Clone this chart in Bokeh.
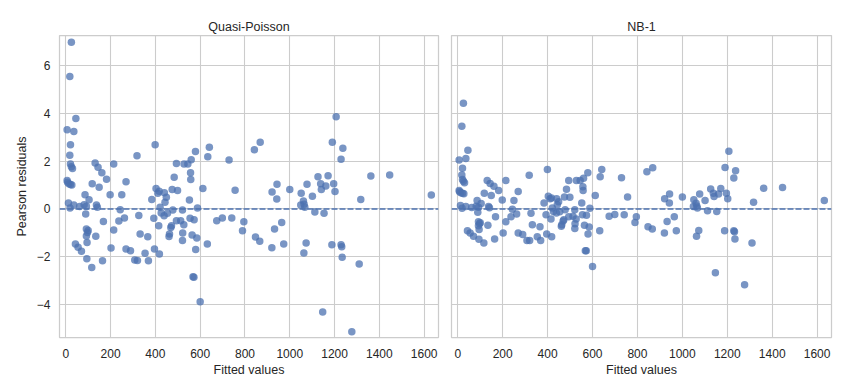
from bokeh.plotting import figure
from bokeh.layouts import row
from bokeh.models import Span, Range1d, FixedTicker, ColumnDataSource
from bokeh.embed import file_html
from bokeh.resources import INLINE

fitted = [25, 18, 45, 6, 36, 21, 18, 21, 25, 30, 6, 8, 14, 21, 27, 12, 19, 36, 62, 82,
          86, 92, 89, 104, 43, 55, 70, 94, 116, 92, 100, 97, 92, 95, 131, 144, 161, 182, 118, 149,
          137, 141, 134, 168, 164, 214, 198, 214, 202, 250, 243, 237, 262, 269, 269, 289, 308, 320, 318, 326,
          332, 366, 354, 369, 399, 384, 393, 396, 403, 411, 417, 415, 418, 421, 426, 440, 443, 449, 439, 454,
          461, 463, 469, 472, 478, 475, 484, 494, 499, 494, 513, 521, 522, 521, 528, 527, 545, 552, 557, 558,
          560, 555, 573, 564, 579, 568, 572, 588, 585, 580, 600, 612, 634, 641, 632, 674, 699, 729, 741, 756,
          795, 789, 842, 868, 847, 866, 920, 921, 932, 942, 943, 964, 973, 1000, 1051, 1049, 1061, 1064, 1067, 1063,
          1073, 1077, 1101, 1112, 1126, 1138, 1141, 1147, 1153, 1161, 1171, 1188, 1190, 1196, 1202, 1207, 1229, 1237, 1229, 1232,
          1234, 1277, 1310, 1317, 1362, 1446, 1632]

resid_quasi_poisson = [6.97, 5.54, 3.78, 3.31, 3.24, 2.68, 2.25, 1.88, 1.77, 1.69, 1.19, 1.12, 1.05, 1.02, 1.00, 0.25, 0.04, 0.17, 0.10, 0.18,
          0.60, 0.11, -0.21, 0.39, -1.46, -1.60, -1.77, -2.08, -2.44, -0.84, -0.90, -0.98, -1.13, -1.40, 1.92, 1.74, 1.51, 1.24, 1.06, 0.91,
          0.17, 0.07, -1.14, -0.52, -2.16, 1.88, 0.60, -0.88, -1.63, 0.60, -0.03, -0.50, -0.38, 1.14, -1.67, -1.74, -2.13, -2.15, 2.23, -0.27,
          -1.05, -1.16, -1.85, -2.16, 2.68, 0.40, -0.39, -1.67, 0.86, 0.66, 0.74, -0.70, -1.88, 0.07, -0.17, 0.68, 0.28, 0.49, -0.28, -0.18,
          -1.15, -1.05, -0.77, -0.70, -0.04, 0.81, 1.33, 1.90, 0.77, -0.49, -0.49, -0.04, -1.00, -1.32, 1.88, -0.66, 1.88, 0.38, 1.51, 1.23,
          2.06, -0.39, -0.45, -1.09, 2.40, -2.83, -2.85, 0.04, -1.21, -1.69, -3.88, 0.86, 2.18, 2.58, -1.46, -0.49, -0.38, 2.05, -0.38, 0.78,
          -0.53, -0.91, 2.48, 2.79, -1.17, -1.35, -1.62, 0.71, -0.84, 0.42, 1.03, -0.56, -1.46, 0.81, 0.66, 0.17, 0.33, 0.20, 0.07, -1.84,
          -1.42, 1.03, 0.53, -0.13, 1.35, 1.05, 0.81, -4.30, -0.18, 0.96, 1.39, -1.49, 2.79, 1.06, 0.73, 3.85, 2.08, 2.54, -1.49, -1.58,
          -2.02, -5.13, -2.30, 0.40, 1.38, 1.42, 0.59]

resid_nb1 = [4.42, 3.46, 2.45, 2.05, 2.11, 1.70, 1.42, 1.23, 1.16, 1.10, 0.77, 0.72, 0.68, 0.66, 0.64, 0.15, 0.03, 0.10, 0.06, 0.11,
          0.35, 0.07, -0.14, 0.23, -0.91, -1.00, -1.14, -1.26, -1.42, -0.53, -0.57, -0.62, -0.70, -0.86, 1.19, 1.07, 0.95, 0.77, 0.66, 0.56,
          0.10, 0.05, -0.68, -0.32, -1.25, 1.19, 0.38, -0.53, -1.00, 0.35, -0.01, -0.32, -0.21, 0.73, -1.00, -1.07, -1.32, -1.32, 1.41, -0.18,
          -0.66, -0.74, -1.16, -1.32, 1.65, 0.25, -0.24, -1.05, 0.53, 0.43, 0.46, -0.42, -1.16, 0.04, -0.10, 0.43, 0.18, 0.30, -0.17, -0.12,
          -0.72, -0.66, -0.50, -0.45, -0.03, 0.50, 0.83, 1.19, 0.49, -0.32, -0.30, -0.03, -0.62, -0.82, 1.19, -0.42, 1.19, 0.25, 0.93, 0.77,
          1.28, -0.24, -0.26, -0.68, 1.51, -1.74, -1.75, 0.03, -0.75, -1.05, -2.40, 0.56, 1.35, 1.65, -0.91, -0.30, -0.23, 1.31, -0.24, 0.50,
          -0.32, -0.56, 1.56, 1.72, -0.74, -0.84, -1.00, 0.43, -0.52, 0.25, 0.63, -0.32, -0.91, 0.50, 0.39, 0.10, 0.24, 0.12, 0.04, -1.14,
          -0.90, 0.63, 0.35, -0.07, 0.84, 0.66, 0.52, -2.66, -0.10, 0.63, 0.86, -0.91, 1.73, 0.66, 0.43, 2.41, 1.30, 1.60, -0.91, -0.95,
          -1.25, -3.17, -1.42, 0.28, 0.87, 0.90, 0.35]

panel_titles = ["Quasi-Poisson", "NB-1"]
x_ticks = [0, 200, 400, 600, 800, 1000, 1200, 1400, 1600]
y_ticks = [-4, -2, 0, 2, 4, 6]
y_tick_labels = {-4: "\u22124", -2: "\u22122", 0: "0", 2: "2", 4: "4", 6: "6"}

BLUE = "#4C72B0"
TXT = "#262626"
GRID = "#cccccc"
FONT = "Liberation Sans"

x_range = Range1d(-28, 1664)
y_range = Range1d(-5.37, 7.25)


def make_panel(title, resid, left, show_y):
    p = figure(frame_width=379 if show_y else 380, frame_height=302,
               x_range=x_range, y_range=y_range,
               output_backend="svg", toolbar_location=None,
               min_border_left=left, min_border_right=6 if show_y else 8,
               min_border_top=35, min_border_bottom=42,
               title=title)
    p.title.align = "center"
    p.title.text_font = FONT
    p.title.text_font_size = "12.5px"
    p.title.text_font_style = "normal"
    p.title.text_color = TXT
    p.title.standoff = 4
    p.outline_line_color = GRID
    p.outline_line_width = 1.25
    p.background_fill_color = "white"
    p.border_fill_color = "white"

    for ax in (p.xaxis[0], p.yaxis[0]):
        ax.axis_line_color = None
        ax.major_tick_line_color = None
        ax.minor_tick_line_color = None
        ax.major_tick_out = 0
        ax.major_tick_in = 0
        ax.minor_tick_out = 0
        ax.major_label_text_font = FONT
        ax.major_label_text_font_size = "12px"
        ax.major_label_text_color = TXT
        ax.axis_label_text_font = FONT
        ax.axis_label_text_font_size = "12.5px"
        ax.axis_label_text_font_style = "normal"
        ax.axis_label_text_color = TXT

    p.xaxis.ticker = FixedTicker(ticks=x_ticks)
    p.yaxis.ticker = FixedTicker(ticks=y_ticks)
    p.yaxis.major_label_overrides = y_tick_labels
    p.xaxis.axis_label = "Fitted values"
    p.xaxis.major_label_standoff = 11
    p.xaxis.axis_label_standoff = 2
    if show_y:
        p.yaxis.axis_label = "Pearson residuals"
        p.yaxis.major_label_standoff = 9
        p.yaxis.axis_label_standoff = 5
    else:
        p.yaxis.visible = False

    p.xgrid.grid_line_color = GRID
    p.ygrid.grid_line_color = GRID
    p.xgrid.grid_line_width = 1.1
    p.ygrid.grid_line_width = 1.1

    src = ColumnDataSource(dict(x=fitted, y=resid))
    p.scatter("x", "y", source=src, size=7.5, fill_color=BLUE, fill_alpha=0.75,
              line_color=None)
    p.add_layout(Span(location=0, dimension="width", line_color=BLUE,
                      line_dash="6 2", line_width=1.5))
    return p


p1 = make_panel(panel_titles[0], resid_quasi_poisson, 59, True)
p2 = make_panel(panel_titles[1], resid_nb1, 7, False)
layout = row(p1, p2)

open("out.html", "w").write(file_html(layout, INLINE))
